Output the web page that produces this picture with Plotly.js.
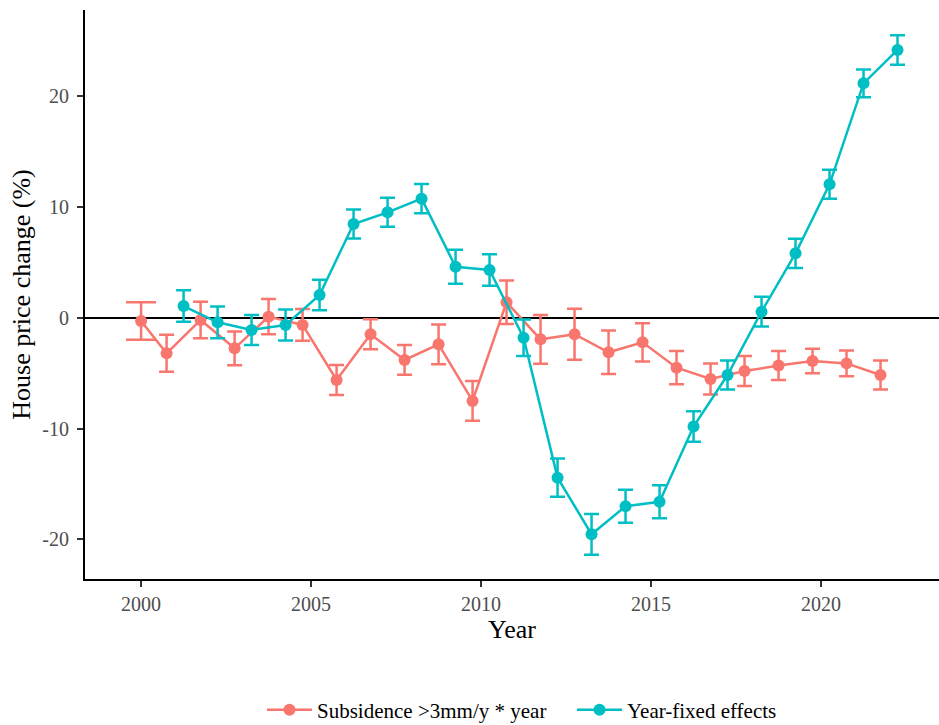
<!DOCTYPE html>
<html>
<head>
<meta charset="utf-8">
<script src="https://cdn.plot.ly/plotly-3.0.1.min.js"></script>
<style>html,body{margin:0;padding:0;background:#fff;}#chart{width:939px;height:725px;}</style>
</head>
<body>
<div id="chart"></div>
<script>
// Data
const redYears = [2000,2001,2002,2003,2004,2005,2006,2007,2008,2009,2010,2011,2012,2013,2014,2015,2016,2017,2018,2019,2020,2021,2022];
const redValues = [-0.27,-3.19,-0.18,-2.74,0.12,-0.63,-5.6,-1.47,-3.79,-2.38,-7.49,1.42,-1.93,-1.47,-3.1,-2.2,-4.49,-5.51,-4.79,-4.3,-3.88,-4.1,-5.15];
const redErr = [1.7,1.67,1.65,1.53,1.6,1.43,1.35,1.35,1.34,1.8,1.79,1.96,2.21,2.3,1.96,1.73,1.5,1.4,1.35,1.31,1.1,1.17,1.31];

const tealYears = [2001,2002,2003,2004,2005,2006,2007,2008,2009,2010,2011,2012,2013,2014,2015,2016,2017,2018,2019,2020,2021,2022];
const tealValues = [1.08,-0.39,-1.08,-0.63,2.08,8.49,9.54,10.77,4.63,4.33,-1.78,-14.42,-19.53,-17.0,-16.6,-9.8,-5.15,0.57,5.84,12.07,21.19,24.2];
const tealErr = [1.43,1.43,1.35,1.4,1.38,1.31,1.31,1.32,1.53,1.43,1.65,1.72,1.84,1.49,1.49,1.38,1.31,1.35,1.32,1.31,1.25,1.34];

const xTicks = [2000,2005,2010,2015,2020];
const yTicks = [-20,-10,0,10,20];
const seriesNames = ['Subsidence >3mm/y * year','Year-fixed effects'];
const colors = ['#F8766D','#00BFC4'];

// position dodge (years with two groups are shifted apart)
const dodge = 0.25;
const tealSet = new Set(tealYears);
const redX = redYears.map(y => tealSet.has(y) ? y - dodge : y);
const tealX = tealYears.map(y => y + dodge);

const redErrMain = redErr.map((e,i) => tealSet.has(redYears[i]) ? e : NaN);
const singleIdx = redYears.map((y,i)=>i).filter(i => !tealSet.has(redYears[i]));

const font = 'Liberation Serif, Times New Roman, serif';

const traces = [
  {
    x: singleIdx.map(i=>redX[i]), y: singleIdx.map(i=>redValues[i]),
    type:'scatter', mode:'markers', showlegend:false, hoverinfo:'skip',
    marker:{color:colors[0], size:12, opacity:0},
    error_y:{type:'data', array: singleIdx.map(i=>redErr[i]), visible:true, color:colors[0], thickness:2.5, width:15}
  },
  {
    x: redX, y: redValues, name: seriesNames[0], legend:'legend',
    type:'scatter', mode:'lines+markers',
    line:{color:colors[0], width:2.5},
    marker:{color:colors[0], size:12},
    error_y:{type:'data', array: redErrMain, visible:true, color:colors[0], thickness:2.5, width:7.5}
  },
  {
    x: tealX, y: tealValues, name: seriesNames[1], legend:'legend2',
    type:'scatter', mode:'lines+markers',
    line:{color:colors[1], width:2.5},
    marker:{color:colors[1], size:12},
    error_y:{type:'data', array: tealErr, visible:true, color:colors[1], thickness:2.5, width:7.5}
  }
];

const legendBase = {orientation:'h', xref:'container', xanchor:'left', yref:'container', y:0.0207, yanchor:'middle',
  font:{family:font, size:21, color:'#000'}, itemwidth:45, bgcolor:'rgba(0,0,0,0)'};

const layout = {
  width:939, height:725,
  margin:{l:85, r:0, t:10, b:146, autoexpand:false},
  paper_bgcolor:'#fff', plot_bgcolor:'#fff',
  font:{family:font, color:'#000'},
  showlegend:true,
  legend:Object.assign({}, legendBase, {x:(262)/939}),
  legend2:Object.assign({}, legendBase, {x:(572)/939}),
  xaxis:{
    range:[1998.35, 2023.47], tickvals:xTicks, ticktext:xTicks.map(String),
    showgrid:false, zeroline:false, showline:true, linecolor:'#000', linewidth:2,
    ticks:'outside', ticklen:6, tickwidth:2, tickcolor:'#333',
    tickfont:{family:font, size:20, color:'#4D4D4D'},
    title:{text:'Year', font:{family:font, size:26, color:'#000'}, standoff:6}
  },
  yaxis:{
    range:[-23.57, 27.81], tickvals:yTicks, ticktext:yTicks.map(String),
    showgrid:false, zeroline:true, zerolinecolor:'#000', zerolinewidth:2,
    showline:true, linecolor:'#000', linewidth:2,
    ticks:'outside', ticklen:6, tickwidth:2, tickcolor:'#333', ticklabelstandoff:4,
    tickfont:{family:font, size:20, color:'#4D4D4D'},
    title:{text:'House price change (%)', font:{family:font, size:26, color:'#000'}, standoff:4}
  }
};

Plotly.newPlot('chart', traces, layout, {displayModeBar:false, staticPlot:true});
</script>
</body>
</html>
